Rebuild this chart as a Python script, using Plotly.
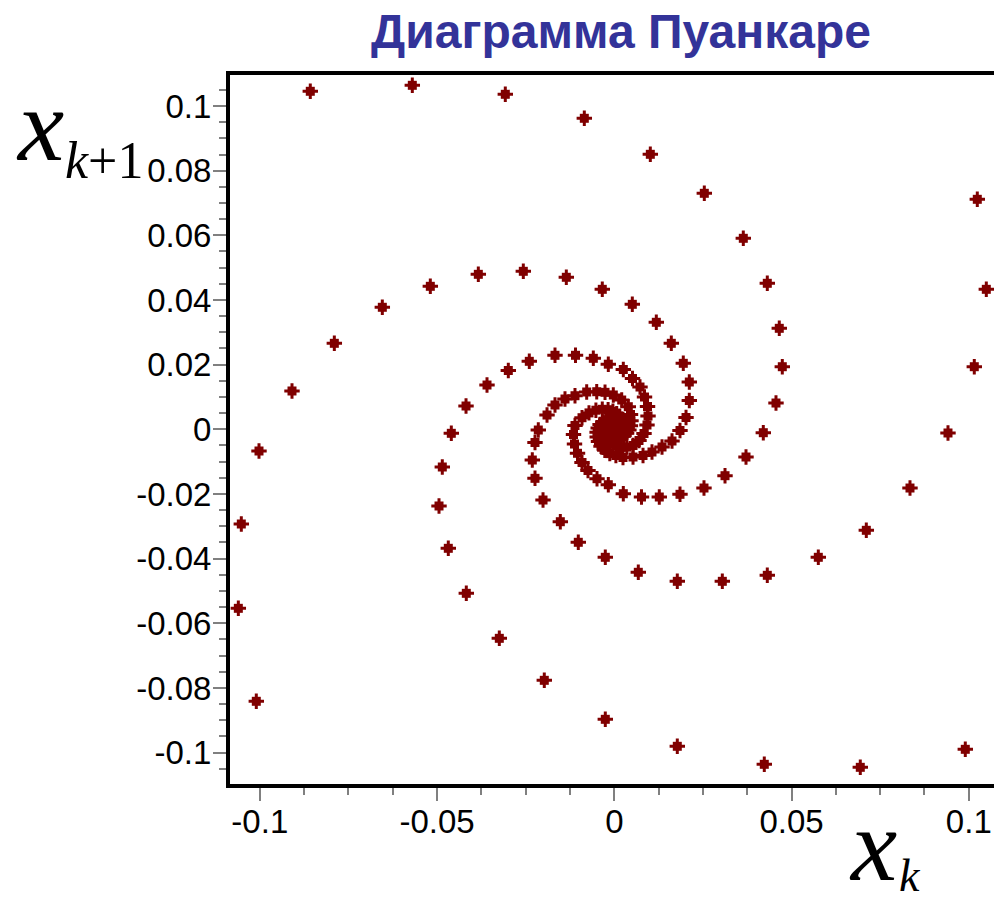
import plotly.graph_objects as go

# Poincaré map x_{k+1} versus x_k: four interleaved branches of a decaying
# oscillation, each listed from the outer turn towards the fixed point at 0.
xk_a = [-0.08576, -0.05698, -0.03075, -0.00846, 0.01016, 0.02539, 0.03639, 0.04316,
        0.04654, 0.04739, 0.04561, 0.04203, 0.03715, 0.03123, 0.02530, 0.01853,
        0.01269, 0.00767, 0.00254, -0.00169, -0.00488, -0.00742, -0.00911, -0.01038,
        -0.01123, -0.01151, -0.01109, -0.00911, -0.00714, -0.00519, -0.00339, -0.00175,
        -0.00039, 0.00068, 0.00150, 0.00203, 0.00231, 0.00243, 0.00234, 0.00217,
        0.00189, 0.00158, 0.00124, 0.00090]
xk1_a = [0.10455, 0.10640, 0.10362, 0.09620, 0.08506, 0.07300, 0.05908, 0.04516,
         0.03124, 0.01936, 0.00813, -0.00105, -0.00857, -0.01435, -0.01816, -0.02011,
         -0.02094, -0.02094, -0.01992, -0.01714, -0.01528, -0.01274, -0.01027, -0.00742,
         -0.00455, -0.00161, 0.00118, 0.00359, 0.00507, 0.00591, 0.00619, 0.00606,
         0.00557, 0.00486, 0.00405, 0.00315, 0.00226, 0.00145, 0.00071, 0.00009,
         -0.00037, -0.00074, -0.00096, -0.00108]

xk_b = [0.09901, 0.06939, 0.04231, 0.01777, -0.00254, -0.01975, -0.03244, -0.04175,
        -0.04683, -0.04945, -0.04852, -0.04598, -0.04183, -0.03591, -0.02990, -0.02398,
        -0.01673, -0.01095, -0.00592, -0.00169, 0.00254, 0.00513, 0.00725, 0.00852,
        0.00937, 0.00951, 0.00922, 0.00838, 0.00697, 0.00528, 0.00353, 0.00197,
        0.00062, -0.00045, -0.00127, -0.00181, -0.00209, -0.00217, -0.00209, -0.00189,
        -0.00161, -0.00127, -0.00093]
xk1_b = [-0.09898, -0.10455, -0.10362, -0.09805, -0.08970, -0.07764, -0.06465, -0.05073,
         -0.03681, -0.02372, -0.01166, -0.00124, 0.00721, 0.01370, 0.01819, 0.02103,
         0.02289, 0.02289, 0.02196, 0.02014, 0.01850, 0.01571, 0.01308, 0.00999,
         0.00705, 0.00411, 0.00133, -0.00130, -0.00346, -0.00501, -0.00551, -0.00554,
         -0.00523, -0.00461, -0.00380, -0.00297, -0.00210, -0.00130, -0.00062, -0.00003,
         0.00043, 0.00074, 0.00096]

xk_c = [-0.10099, -0.10606, -0.10522, -0.10023, -0.09092, -0.07898, -0.06544, -0.05190,
        -0.03836, -0.02567, -0.01354, -0.00339, 0.00508, 0.01185, 0.01608, 0.01946,
        0.02116, 0.02116, 0.02023, 0.01853, 0.01628, 0.01346, 0.01063, 0.00810,
        0.00528, 0.00245, 0.00045, -0.00127, -0.00268, -0.00375, -0.00446, -0.00482,
        -0.00485, -0.00454, -0.00401, -0.00324, -0.00240, -0.00152, -0.00071, 0.00000,
        0.00059, 0.00102, 0.00127, 0.00141]
xk1_c = [-0.08413, -0.05537, -0.02929, -0.00671, 0.01185, 0.02660, 0.03774, 0.04423,
         0.04794, 0.04887, 0.04702, 0.04330, 0.03866, 0.03310, 0.02660, 0.02041,
         0.01463, 0.00891, 0.00365, -0.00037, -0.00362, -0.00547, -0.00702, -0.00810,
         -0.00857, -0.00872, -0.00810, -0.00752, -0.00650, -0.00523, -0.00377, -0.00235,
         -0.00090, 0.00037, 0.00148, 0.00229, 0.00285, 0.00306, 0.00303, 0.00281,
         0.00244, 0.00198, 0.00148, 0.00099]

xk_d = [0.10240, 0.10494, 0.10155, 0.09413, 0.08341, 0.07109, 0.05755, 0.04316,
        0.03047, 0.01777, 0.00677, -0.00254, -0.01016, -0.01523, -0.02011, -0.02237,
        -0.02313, -0.02237, -0.02144, -0.01898, -0.01673, -0.01391, -0.01109, -0.00779,
        -0.00496, -0.00262, -0.00028, 0.00209, 0.00395, 0.00457, 0.00471, 0.00454,
        0.00412, 0.00347, 0.00274, 0.00197, 0.00121, 0.00054, 0.00000, -0.00045,
        -0.00073, -0.00090, -0.00037, 0.00006, 0.00048]
xk1_d = [0.07114, 0.04330, 0.01936, -0.00114, -0.01816, -0.03124, -0.03959, -0.04516,
         -0.04702, -0.04702, -0.04423, -0.03959, -0.03495, -0.02858, -0.02187, -0.01516,
         -0.00950, -0.00408, -0.00022, 0.00442, 0.00752, 0.00937, 0.01039, 0.01154,
         0.01163, 0.01144, 0.01061, 0.00906, 0.00699, 0.00458, 0.00263, 0.00108,
         -0.00022, -0.00121, -0.00189, -0.00229, -0.00244, -0.00238, -0.00217, -0.00182,
         -0.00145, -0.00105, -0.00022, 0.00000, 0.00025]

x_tick_vals = [-0.1, -0.05, 0, 0.05, 0.1]
x_tick_text = ["-0.1", "-0.05", "0", "0.05", "0.1"]
y_tick_vals = [-0.1, -0.08, -0.06, -0.04, -0.02, 0, 0.02, 0.04, 0.06, 0.08, 0.1]
y_tick_text = ["-0.1", "-0.08", "-0.06", "-0.04", "-0.02", "0",
               "0.02", "0.04", "0.06", "0.08", "0.1"]

xk = xk_a + xk_b + xk_c + xk_d
xk1 = xk1_a + xk1_b + xk1_c + xk1_d

POINT = "#800000"
TICK = "#808080"
TICK_FONT = dict(family="Liberation Sans, Arial, sans-serif", size=33, color="black")

fig = go.Figure()
# point symbol: small solid block with a cross through it
fig.add_trace(go.Scatter(
    x=xk, y=xk1, mode="markers", hoverinfo="skip",
    marker=dict(symbol="square", size=9, color=POINT, line=dict(width=0)),
))
fig.add_trace(go.Scatter(
    x=xk, y=xk1, mode="markers",
    marker=dict(symbol="cross-thin", size=11, color=POINT,
                line=dict(width=3, color=POINT)),
))

fig.update_layout(
    width=994, height=904,
    margin=dict(l=230, r=0, t=75, b=120),
    paper_bgcolor="white", plot_bgcolor="white",
    showlegend=False,
    title=dict(
        text="Диаграмма Пуанкаре",
        font=dict(family="Liberation Sans, Arial, sans-serif", size=48,
                  color="#333399", weight="bold"),
        x=621 / 994, xanchor="center", xref="container",
        y=1 - 31 / 904, yanchor="middle", yref="container",
    ),
    xaxis=dict(
        range=[-0.10841, 0.10711], showgrid=False, zeroline=False,
        showline=True, linecolor="black", linewidth=3.5, mirror=True,
        ticks="outside", ticklen=13, tickwidth=2, tickcolor=TICK,
        tickmode="array", tickvals=x_tick_vals, ticktext=x_tick_text,
        tickfont=TICK_FONT, ticklabelstandoff=-7,
        minor=dict(tick0=0, dtick=0.0125, ticks="outside", ticklen=7,
                   tickwidth=2, tickcolor=TICK),
    ),
    yaxis=dict(
        range=[-0.10971, 0.10959], showgrid=False, zeroline=False,
        showline=True, linecolor="black", linewidth=4, mirror=False,
        ticks="outside", ticklen=13, tickwidth=2, tickcolor=TICK,
        tickmode="array", tickvals=y_tick_vals, ticktext=y_tick_text,
        tickfont=TICK_FONT, ticklabelstandoff=-5,
        minor=dict(tick0=0, dtick=0.005, ticks="outside", ticklen=7,
                   tickwidth=2, tickcolor=TICK),
    ),
)

SERIF = "Liberation Serif, Times New Roman, serif"
labels = [
    # x_{k+1} beside the vertical axis
    dict(text="<i>x</i>", x=(40 - 230) / 764, y=(784 - 184) / 709,
         xanchor="center", yanchor="bottom", size=104),
    dict(text="<i>k</i>+1", x=(63 - 230) / 764, y=(784 - 191.5) / 709,
         xanchor="left", yanchor="bottom", size=52),
    # x_k under the horizontal axis
    dict(text="<i>x</i>", x=(873 - 230) / 764, y=(784 - 904) / 709,
         xanchor="center", yanchor="bottom", size=104),
    dict(text="<i>k</i>", x=(897 - 230) / 764, y=(784 - 903) / 709,
         xanchor="left", yanchor="bottom", size=46),
]
for lab in labels:
    fig.add_annotation(
        text=lab["text"], x=lab["x"], y=lab["y"], xref="paper", yref="paper",
        xanchor=lab["xanchor"], yanchor=lab["yanchor"], showarrow=False,
        font=dict(family=SERIF, size=lab["size"], color="black"),
    )

fig.write_html("out.html")
